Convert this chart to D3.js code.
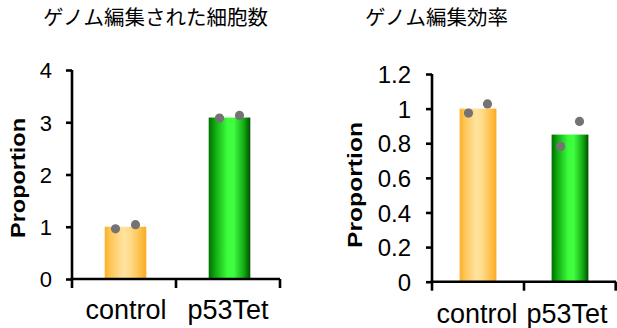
<!DOCTYPE html>
<html><head><meta charset="utf-8">
<script src="https://cdn.jsdelivr.net/npm/d3@7"></script>
<style>html,body{margin:0;padding:0;background:#fff;}svg{display:block;}</style>
</head><body>
<svg id="c" width="617" height="328"></svg>
<script>
const categories = ["control", "p53Tet"];
const titles = ["ゲノム編集された細胞数", "ゲノム編集効率"];
const cellsMeans = [1.0, 3.09];
const cellsPoints = [[0.96, 1.04], [3.08, 3.13]];
const effMeans = [1.0, 0.85];
const effPoints = [[0.974, 1.027], [0.781, 0.926]];
const cellsTicks = [0, 1, 2, 3, 4];
const effTicks = [0, 0.2, 0.4, 0.6, 0.8, 1, 1.2];
const yLabel = "Proportion";

const svg = d3.select("#c");
const defs = svg.append("defs");
function grad(id, stops){
  const g = defs.append("linearGradient").attr("id", id).attr("x1","0").attr("x2","1").attr("y1","0").attr("y2","0");
  stops.forEach(s => g.append("stop").attr("offset", s[0]).attr("stop-color", s[1]));
}
grad("gOrange", [[0,"#fcb12a"],[0.15,"#fdc75a"],[0.45,"#ffe39f"],[0.6,"#ffdc8c"],[0.85,"#fdc04a"],[1,"#fbaa22"]]);
grad("gGreen", [[0,"#006e00"],[0.15,"#10a810"],[0.45,"#3cfc3c"],[0.6,"#40ff40"],[0.85,"#12a812"],[1,"#004f00"]]);
const fills = ["url(#gOrange)", "url(#gGreen)"];

function drawChart(cfg){
  const g = svg.append("g");
  const x = d3.scaleBand().domain(categories).range([cfg.x0, cfg.x1]).paddingInner(0).paddingOuter(0);
  const y = d3.scaleLinear().domain([0, cfg.ticks[cfg.ticks.length-1]]).range([cfg.yb, cfg.yt]);
  const bw = x.bandwidth() * 0.4;

  // bars
  g.selectAll("rect.bar").data(cfg.means).join("rect")
    .attr("x", (d,i) => x(categories[i]) + x.bandwidth()/2 - bw/2 + cfg.barShift)
    .attr("width", bw)
    .attr("y", d => y(d))
    .attr("height", d => y(0) - y(d))
    .attr("fill", (d,i) => fills[i]);

  // points
  cfg.points.forEach((pts, i) => {
    g.selectAll(null).data(pts).join("circle")
      .attr("cx", (d,j) => x(categories[i]) + x.bandwidth()/2 + cfg.barShift + (j === 0 ? -1 : 1) * cfg.dx)
      .attr("cy", d => y(d))
      .attr("r", 4.6)
      .attr("fill", "#747272");
  });

  // y axis
  const ya = d3.axisLeft(y).tickValues(cfg.ticks).tickFormat(d3.format("~g")).tickSize(6).tickPadding(cfg.tickPad);
  const yg = g.append("g").attr("transform", `translate(${cfg.x0},0)`).call(ya);
  yg.select(".domain").attr("stroke","#000").attr("stroke-width",2.6).attr("d", `M0,${cfg.yt}V${cfg.yb}`);
  yg.selectAll(".tick line").attr("stroke","#000").attr("stroke-width",2.6);
  yg.selectAll(".tick text").attr("font-family","'Liberation Sans', Arial, sans-serif").attr("font-size", cfg.tickFs).attr("fill","#000").attr("dy","0.36em");

  // x axis
  const xg = g.append("g").attr("transform", `translate(0,${cfg.yb})`);
  xg.append("line").attr("x1", cfg.x0 - 1.3).attr("x2", cfg.x1).attr("y1",0).attr("y2",0).attr("stroke","#000").attr("stroke-width",2.6);
  const edges = [cfg.x0, ...categories.map(c => x(c) + x.bandwidth())];
  xg.selectAll("line.xt").data(edges).join("line").attr("class","xt")
    .attr("x1", d => Math.min(d, 615.7)).attr("x2", d => Math.min(d, 615.7)).attr("y1", 0).attr("y2", cfg.xTick)
    .attr("stroke","#000").attr("stroke-width",2.6);
  g.selectAll("text.xl").data(categories).join("text").attr("class","xl")
    .attr("x", (d,i) => x(d) + x.bandwidth()/2 + cfg.labShift[i])
    .attr("y", cfg.labY)
    .attr("text-anchor","middle")
    .attr("font-family","'Liberation Sans', Arial, sans-serif")
    .attr("font-size", cfg.labFs)
    .attr("fill","#000")
    .text(d => d);

  // y label
  g.append("text")
    .attr("transform", `translate(${cfg.ylx},${cfg.yly}) rotate(-90)`)
    .attr("text-anchor","middle")
    .attr("font-family","'Liberation Sans', Arial, sans-serif")
    .attr("font-weight","bold")
    .attr("font-size", 20)
    .attr("textLength", cfg.ylLen)
    .attr("lengthAdjust","spacingAndGlyphs")
    .attr("fill","#000")
    .text(yLabel);

  // title
  g.append("text")
    .attr("x", cfg.tx).attr("y", 25)
    .attr("text-anchor","middle")
    .attr("font-family","'Noto Sans CJK JP', sans-serif")
    .attr("font-size", 20.5)
    .attr("fill","#000")
    .text(cfg.title);
}

drawChart({x0:72, x1:280, yb:279, yt:70, ticks:cellsTicks, means:cellsMeans, points:cellsPoints,
  barShift:1.5, dx:10, tickPad:14, tickFs:22, xTick:9, labY:319, labFs:27, labShift:[2,0],
  ylx:25, yly:178, ylLen:120, tx:155.5, title:titles[0]});
drawChart({x0:432, x1:616, yb:281.7, yt:74, ticks:effTicks, means:effMeans, points:effPoints,
  barShift:0, dx:9.5, tickPad:15, tickFs:24, xTick:9, labY:323, labFs:27, labShift:[-1,-3],
  ylx:361.5, yly:185, ylLen:126, tx:436.5, title:titles[1]});
</script>
</body></html>
